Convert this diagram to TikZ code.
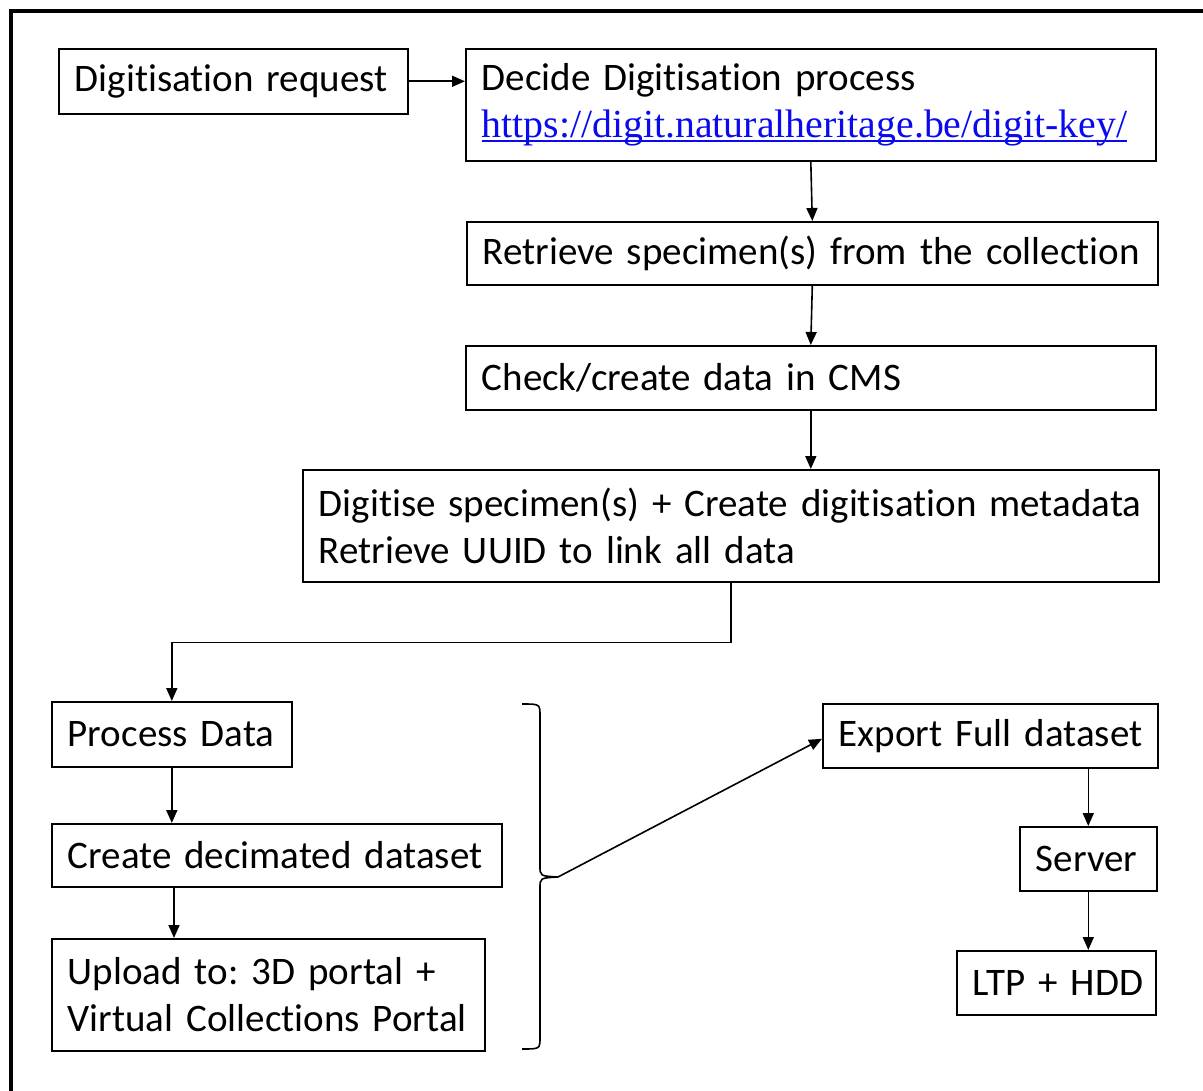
\documentclass[tikz,border=0pt]{standalone}
\usepackage{fontspec}
\setmainfont{Carlito}[Ligatures=NoCommon]
\newfontfamily\linkfont{Liberation Serif}
\usetikzlibrary{arrows.meta,calc}

\definecolor{linkblue}{RGB}{10,10,240}
% underlined hyperlink-style text
\newcommand\linktext[1]{\hbox{\linkfont\fontsize{39.8}{47}\selectfont\color{linkblue}\setbox0\hbox{#1}\rlap{\rule[-4.5pt]{\wd0}{1.8pt}}\box0}}
% a line of a box that is never broken
\newcommand\oneline[1]{\mbox{#1}}

\begin{document}
\frenchspacing
\begin{tikzpicture}[x=1pt,y=-1pt,
  every node/.style={font=\fontsize{39}{47}\selectfont},
  stepbox/.style={draw, line width=1.6pt, rectangle, inner xsep=16pt, inner ysep=0pt,
    anchor=north west, align=left},
  link/.style={line width=1.6pt, -{Triangle[length=13pt,width=11pt]}},
  plainline/.style={line width=1.6pt}
]
\useasboundingbox (0,0) rectangle (1203,1091);
\fill[white] (0,0) rectangle (1203,1091);

% frame
\draw[line width=4.5pt] (10.8,1100) -- (10.8,11) -- (1215,11);

% top chain
\node[stepbox, text width=317pt, minimum height=65pt] (request) at (58,48) {\oneline{Digitisation request}};
\node[stepbox, text width=658pt, minimum height=112pt] (decide) at (465,48)
  {\oneline{Decide Digitisation process}\\\linktext{https://digit.naturalheritage.be/digit-key/}};
\node[stepbox, text width=659pt, minimum height=63pt] (retrieve) at (466,221) {\oneline{Retrieve specimen(s) from the collection}};
\node[stepbox, text width=658pt, minimum height=64pt] (check) at (465,345) {\oneline{Check/create data in CMS}};
\node[stepbox, text width=824pt, minimum height=112pt] (digitise) at (302,469)
  {\oneline{Digitise specimen(s) + Create digitisation metadata}\\\oneline{Retrieve UUID to link all data}};

% left column
\node[stepbox, text width=208pt, minimum height=65pt] (process) at (51,701) {\oneline{Process Data}};
\node[stepbox, text width=418pt, minimum height=63pt] (create) at (51,823) {\oneline{Create decimated dataset}};
\node[stepbox, text width=401pt, minimum height=112pt] (upload) at (51,938)
  {\oneline{Upload to: 3D portal +}\\\oneline{Virtual Collections Portal}};

% right column
\node[stepbox, text width=303pt, minimum height=64pt] (export) at (822,703) {\oneline{Export Full dataset}};
\node[stepbox, text width=105pt, minimum height=64pt] (server) at (1019,826) {\oneline{Server}};
\node[stepbox, text width=167pt, minimum height=64pt] (ltp) at (956,950) {\oneline{LTP + HDD}};

% connectors
\draw[link] (request.east) -- (request.east -| decide.west);
\draw[link] (decide.south) -- (retrieve.north);
\draw[link] (retrieve.south) -- (check.north);
\draw[link] (check.south) -- (check.south |- digitise.north);
\draw[link] (digitise.south) -- ++(0,60) -| (process.north);
\draw[link] (process.south) -- (process.south |- create.north);
\draw[link] ($(create.south west)+(123,0)$) -- ($(upload.north west)+(123,0)$);
\draw[link] (export.south -| server.north) -- (server.north);
\draw[link] (server.south) -- (server.south |- ltp.north);

% brace grouping the left column
\coordinate (bracetip) at (558,877);
\draw[plainline] (522,704) .. controls (540,704) .. (540,716) -- (540,866)
  .. controls (540,876) .. (bracetip)
  .. controls (540,878) .. (540,888) -- (540,1037)
  .. controls (540,1049) .. (522,1049);
\draw[link] (bracetip) -- ($(export.west)+(0,3)$);
\end{tikzpicture}
\end{document}
